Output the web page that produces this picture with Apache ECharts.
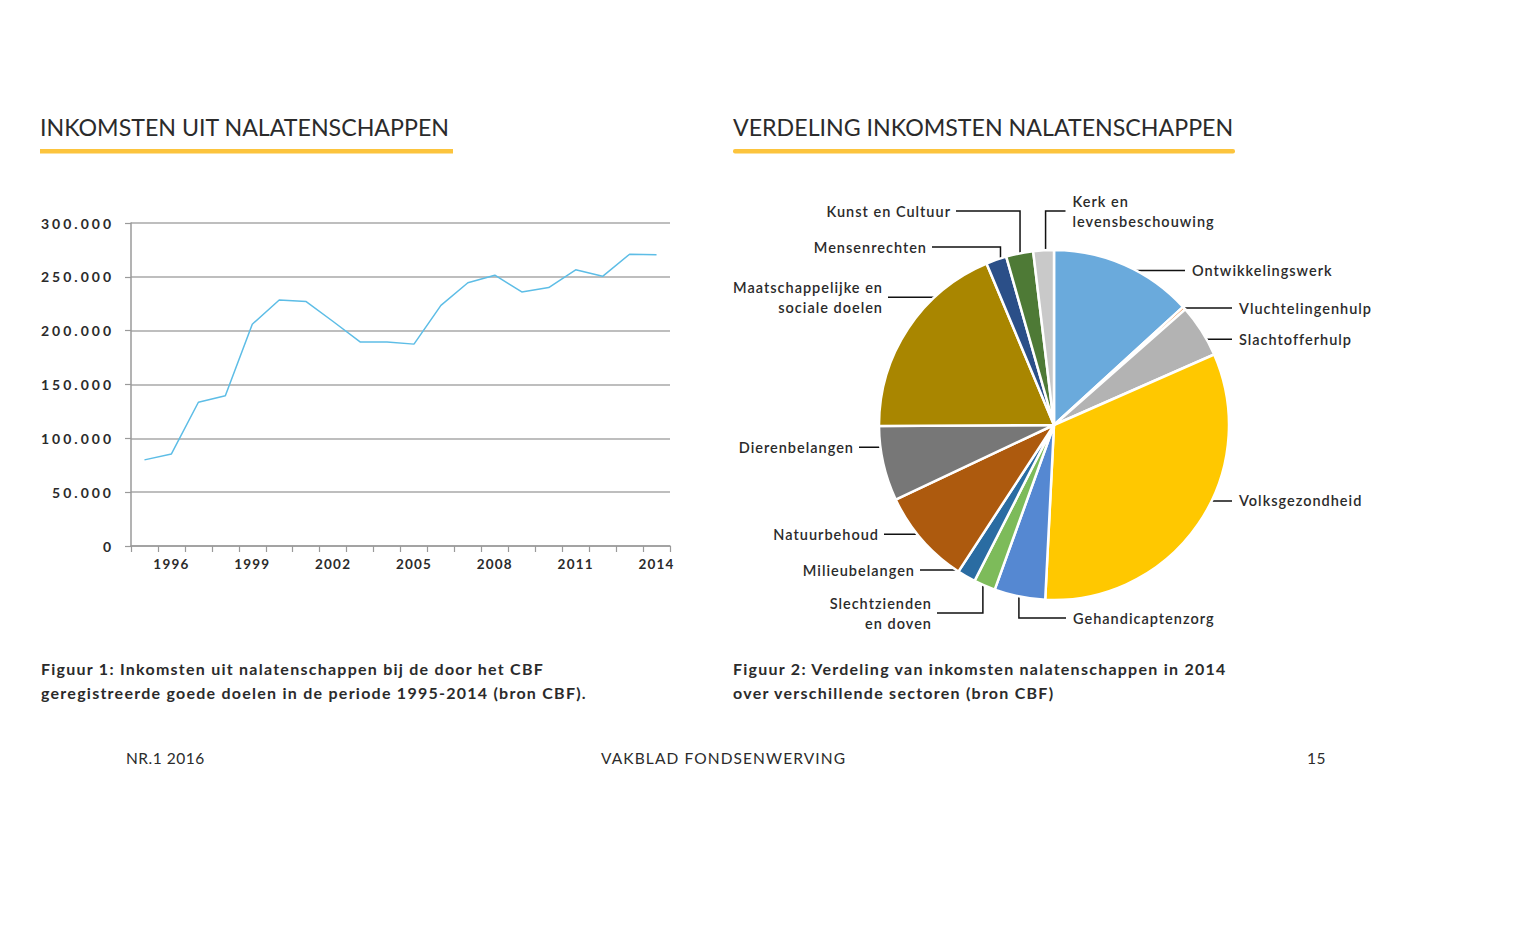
<!DOCTYPE html>
<html>
<head>
<meta charset="utf-8">
<script src="https://cdn.jsdelivr.net/npm/echarts@6/dist/echarts.min.js"></script>
<style>
  html, body { margin: 0; padding: 0; background: #ffffff; }
  #chart { width: 1520px; height: 940px; }
</style>
</head>
<body>
<div id="chart"></div>
<script>
// ---------- DATA ----------
const years = ['1995','1996','1997','1998','1999','2000','2001','2002','2003','2004',
               '2005','2006','2007','2008','2009','2010','2011','2012','2013','2014'];
const legacyIncome = [80000, 85500, 133500, 139500, 206000, 228500, 227000, 208500, 189500, 189500,
                      187500, 223500, 244500, 251500, 236000, 240000, 256500, 250500, 271000, 270500];
const yTicks = [0, 50000, 100000, 150000, 200000, 250000, 300000];

const sectors = ['Ontwikkelingswerk', 'Vluchtelingenhulp', 'Slachtofferhulp', 'Volksgezondheid',
                 'Gehandicaptenzorg', 'Slechtzienden\nen doven', 'Milieubelangen', 'Natuurbehoud',
                 'Dierenbelangen', 'Maatschappelijke en\nsociale doelen', 'Mensenrechten',
                 'Kunst en Cultuur', 'Kerk en\nlevensbeschouwing'];
const sectorShares = [13.2, 0.3, 4.9, 32.4, 4.7, 2.0, 1.7, 8.8, 6.9, 18.8, 1.9, 2.5, 1.9];

// ---------- STYLE / LAYOUT ----------
const sectorColors = ['#6aaadc', '#f08a3c', '#b3b3b3', '#ffc800', '#5588d2', '#7dbb5a', '#2a6ca2',
                      '#ad5a0e', '#777777', '#a98600', '#2b4f88', '#4e7a36', '#c9c9c9'];
const PIE_C = [1054, 425];
const PIE_R = 175;
// leader-line guides: t = position within slice, r = fraction of radius, endX / elbowY relative to center
const labelGuides = [
  { t: 0.50, r: 0.965, endX: 131 },
  { t: 0.50, r: 1.00,  endX: 178 },
  { t: 0.50, r: 0.91,  endX: 178 },
  { t: 0.46, r: 0.87,  endX: 178 },
  { t: 0.55, r: 0.95,  endX: 12,   elbowY: 193 },
  { t: 0.69, r: 0.97,  endX: -117, elbowY: 188 },
  { t: 0.54, r: 0.96,  endX: -134 },
  { t: 0.48, r: 0.94,  endX: -170 },
  { t: 0.69, r: 0.91,  endX: -195 },
  { t: 0.77, r: 0.93,  endX: -166 },
  { t: 0.60, r: 0.96,  endX: -122, elbowY: -178 },
  { t: 0.45, r: 0.95,  endX: -98,  elbowY: -214 },
  { t: 0.58, r: 0.96,  endX: 11.5, elbowY: -214 }
];

const FONT = 'Lato';
const TEXT = '#2b2b2b';

function fmtThousands(v) {
  return String(v).replace(/\B(?=(\d{3})+(?!\d))/g, '.');
}

const totalShare = sectorShares.reduce((a, b) => a + b, 0);
const sliceBounds = [];
(function () {
  let acc = 0;
  sectorShares.forEach(v => {
    const a0 = acc / totalShare * 360;
    acc += v;
    const a1 = acc / totalShare * 360;
    sliceBounds.push([a0, a1]);
  });
})();

function pieLabelLayout(params) {
  const i = params.dataIndex;
  const g = labelGuides[i];
  const [a0, a1] = sliceBounds[i];
  const ang = (a0 + g.t * (a1 - a0)) * Math.PI / 180;
  const ax = PIE_C[0] + g.r * PIE_R * Math.sin(ang);
  const ay = PIE_C[1] - g.r * PIE_R * Math.cos(ang);
  const ex = PIE_C[0] + g.endX;
  const ey = g.elbowY !== undefined ? PIE_C[1] + g.elbowY : ay;
  const mid = g.elbowY !== undefined ? [ax, ey] : [ex, ey];
  const right = ex > ax;
  return {
    x: right ? ex + 7 : ex - 5,
    y: ey,
    align: right ? 'left' : 'right',
    verticalAlign: 'middle',
    labelLinePoints: [[ax, ay], mid, [ex, ey]]
  };
}

const chart = echarts.init(document.getElementById('chart'), null, { renderer: 'svg' });

const option = {
  backgroundColor: '#ffffff',
  animation: false,
  textStyle: { fontFamily: FONT },
  grid: { left: 131, top: 223, width: 539, height: 323, containLabel: false },
  xAxis: {
    type: 'category',
    data: years,
    boundaryGap: true,
    axisLine: { show: true, lineStyle: { color: '#9a9a9a', width: 1.5 } },
    axisTick: { show: true, interval: 0, length: 6, lineStyle: { color: '#9a9a9a', width: 1.2 } },
    axisLabel: {
      interval: (idx) => idx % 3 === 1,
      margin: 11,
      color: TEXT,
      fontFamily: FONT,
      fontSize: 13.5,
      fontWeight: 700
    },
    splitLine: { show: false }
  },
  yAxis: {
    type: 'value',
    min: yTicks[0],
    max: yTicks[yTicks.length - 1],
    interval: yTicks[1] - yTicks[0],
    axisLine: { show: true, lineStyle: { color: '#9a9a9a', width: 1.5 } },
    axisTick: { show: true, length: 6, lineStyle: { color: '#9a9a9a', width: 1.2 } },
    axisLabel: {
      margin: 17,
      color: TEXT,
      fontFamily: FONT,
      fontSize: 14,
      fontWeight: 700,
      formatter: fmtThousands
    },
    splitLine: { show: true, lineStyle: { color: '#a8a8a8', width: 1.5 } }
  },
  series: [
    {
      type: 'line',
      data: legacyIncome,
      symbol: 'none',
      lineStyle: { color: '#5dbde6', width: 1.5 },
      itemStyle: { color: '#5dbde6' },
      emphasis: { disabled: true }
    },
    {
      type: 'pie',
      center: PIE_C,
      radius: PIE_R,
      startAngle: 90,
      clockwise: true,
      avoidLabelOverlap: false,
      data: sectors.map((name, i) => ({ name: name, value: sectorShares[i], itemStyle: { color: sectorColors[i] } })),
      itemStyle: { borderColor: '#ffffff', borderWidth: 2.5 },
      label: {
        show: true,
        position: 'outside',
        formatter: '{b}',
        color: TEXT,
        fontFamily: FONT,
        fontSize: 14.5,
        fontWeight: 600,
        lineHeight: 20
      },
      labelLine: { show: true, lineStyle: { color: '#111111', width: 1.5 } },
      labelLayout: pieLabelLayout,
      emphasis: { disabled: true }
    }
  ],
  graphic: [
    { type: 'text', left: 40, top: 115, style: { text: 'INKOMSTEN UIT NALATENSCHAPPEN', fill: TEXT, font: '400 23.2px ' + FONT } },
    { type: 'rect', shape: { x: 40, y: 149, width: 413, height: 4.5, r: 0 }, style: { fill: '#fcc43d' } },
    { type: 'text', left: 733, top: 115, style: { text: 'VERDELING INKOMSTEN NALATENSCHAPPEN', fill: TEXT, font: '400 23.2px ' + FONT } },
    { type: 'rect', shape: { x: 733, y: 149, width: 502, height: 4.5, r: 2 }, style: { fill: '#fcc43d' } },
    { type: 'text', left: 41, top: 656, style: { text: 'Figuur 1: Inkomsten uit nalatenschappen bij de door het CBF\ngeregistreerde goede doelen in de periode 1995-2014 (bron CBF).', fill: TEXT, font: '700 16px ' + FONT, lineHeight: 24 } },
    { type: 'text', left: 733, top: 656, style: { text: 'Figuur 2: Verdeling van inkomsten nalatenschappen in 2014\nover verschillende sectoren (bron CBF)', fill: TEXT, font: '700 16px ' + FONT, lineHeight: 24 } },
    { type: 'text', left: 126, top: 750, style: { text: 'NR.1 2016', fill: TEXT, font: '400 15.5px ' + FONT } },
    { type: 'text', left: 601, top: 750, style: { text: 'VAKBLAD FONDSENWERVING', fill: TEXT, font: '400 15.5px ' + FONT } },
    { type: 'text', left: 1307, top: 750, style: { text: '15', fill: TEXT, font: '400 15.5px ' + FONT } }
  ]
};

chart.setOption(option);

// widen the text tracking to approach the wide typeface of the original
function applyTracking() {
  document.querySelectorAll('#chart svg text').forEach(t => {
    const s = (t.textContent || '').trim();
    const fs = parseFloat(getComputedStyle(t).fontSize);
    let ls = 0;
    if (/^(0|\d{1,3}(\.\d{3})+)$/.test(s)) ls = 3.0;
    else if (/^\d{4}$/.test(s) && fs < 14) ls = 1.2;
    else if (Math.abs(fs - 14.5) < 0.01) ls = 1.0;
    else if (Math.abs(fs - 16) < 0.01) ls = 1.25;
    else if (Math.abs(fs - 15.5) < 0.01) ls = s.length > 10 ? 1.1 : 0.5;
    t.style.letterSpacing = ls + 'px';
  });
}
applyTracking();
chart.on('finished', applyTracking);
</script>
</body>
</html>
